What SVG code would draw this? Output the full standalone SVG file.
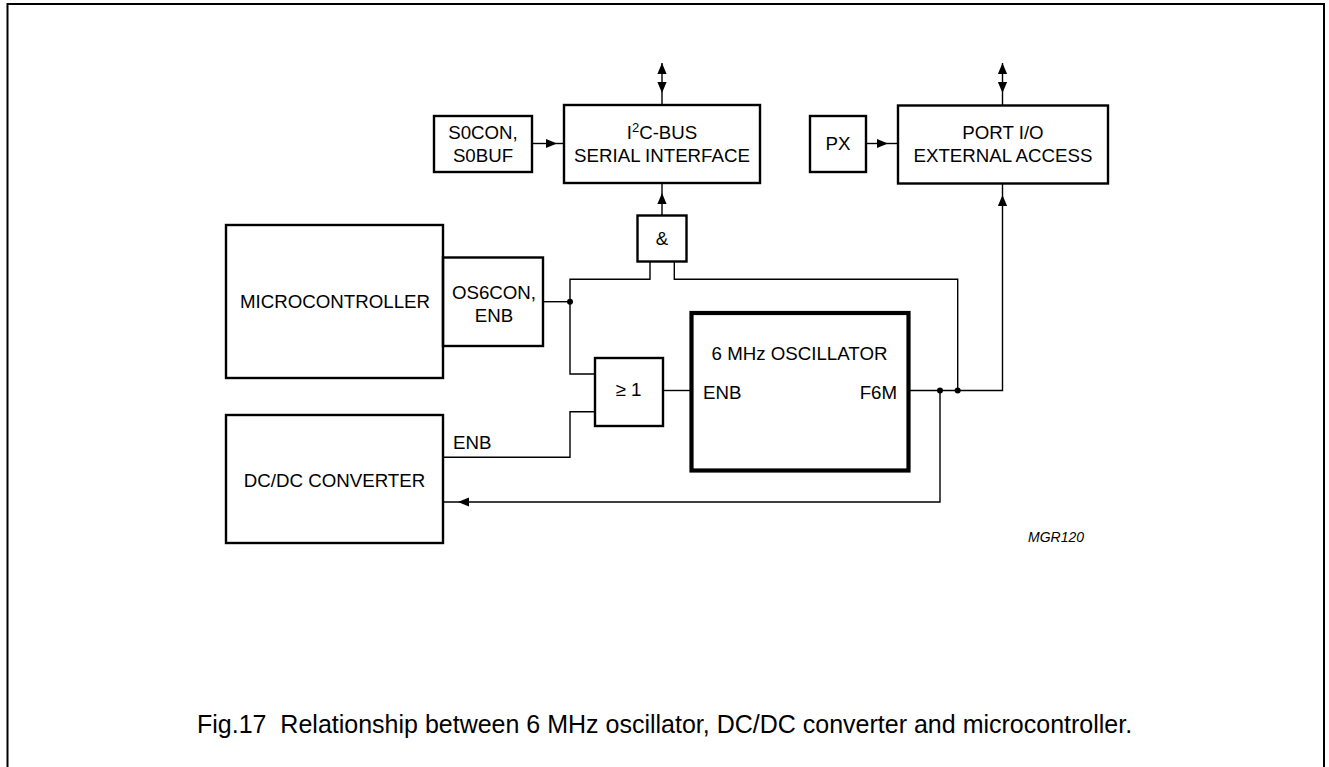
<svg xmlns="http://www.w3.org/2000/svg" xmlns:xlink="http://www.w3.org/1999/xlink" width="1329" height="767" viewBox="0 0 1329 767">
<style>
  .box{fill:none;stroke:#000;stroke-width:2.4}
  .thick{fill:none;stroke:#000;stroke-width:4.2}
  .wire{fill:none;stroke:#000;stroke-width:1.4}
  .lbl{font-family:"Liberation Sans",Arial,Helvetica,sans-serif;font-size:18.7px;fill:#000}
  .mid{text-anchor:middle}
  .cap{font-family:"Liberation Sans",Arial,Helvetica,sans-serif;font-size:25px;fill:#000;white-space:pre}
  .code{font-family:"Liberation Sans",Arial,Helvetica,sans-serif;font-size:14px;font-style:italic;fill:#000}
  .dot{fill:#000}
</style>
<defs>
  <path id="ah" d="M0,0 L-11,-4.6 L-11,4.6 Z" fill="#000"/>
</defs>
<rect width="1329" height="767" fill="#fff"/>
<path d="M7.5,767 V4 H1324 V767" fill="none" stroke="#000" stroke-width="2"/>

<g id="connectors">
  <path class="wire" d="M532,143.5 H564"/>
  <use xlink:href="#ah" transform="translate(557,143.5)"/>
  <path class="wire" d="M866,143.5 H898"/>
  <use xlink:href="#ah" transform="translate(888,143.5)"/>
  <path class="wire" d="M662,63 V105"/>
  <use xlink:href="#ah" transform="translate(662,63) rotate(-90)"/>
  <use xlink:href="#ah" transform="translate(662,93) rotate(90)"/>
  <path class="wire" d="M1002.5,63 V105.5"/>
  <use xlink:href="#ah" transform="translate(1002.5,63) rotate(-90)"/>
  <use xlink:href="#ah" transform="translate(1002.5,93) rotate(90)"/>
  <path class="wire" d="M662,215.5 V183"/>
  <use xlink:href="#ah" transform="translate(662,193) rotate(-90)"/>
  <path class="wire" d="M543,301.7 H570"/>
  <path class="wire" d="M650,261.5 V279.3 H570 V374 H595"/>
  <path class="wire" d="M674.3,261.5 V279.3 H957.7 V390.5"/>
  <path class="wire" d="M443,457.3 H570 V411.7 H595"/>
  <path class="wire" d="M663,390.5 H691.5"/>
  <path class="wire" d="M908.7,390.5 H1002.5 V183.5"/>
  <use xlink:href="#ah" transform="translate(1002.5,195) rotate(-90)"/>
  <path class="wire" d="M940,390.5 V502 H443"/>
  <use xlink:href="#ah" transform="translate(458,502) rotate(180)"/>
  <circle class="dot" cx="570" cy="301.7" r="3"/>
  <circle class="dot" cx="940" cy="390.5" r="3"/>
  <circle class="dot" cx="957.7" cy="390.5" r="3"/>
</g>

<g id="s0con">
  <rect class="box" x="434" y="116" width="98" height="56"/>
  <text class="lbl mid" x="483" y="139">S0CON,</text>
  <text class="lbl mid" x="483" y="161.7">S0BUF</text>
</g>
<g id="i2c">
  <rect class="box" x="564" y="105" width="196" height="78"/>
  <text class="lbl mid" x="662" y="139">I<tspan font-size="13" dy="-7">2</tspan><tspan dy="7">C-BUS</tspan></text>
  <text class="lbl mid" x="662" y="161.7">SERIAL INTERFACE</text>
</g>
<g id="px">
  <rect class="box" x="810" y="116" width="56" height="56"/>
  <text class="lbl mid" x="838" y="150">PX</text>
</g>
<g id="port">
  <rect class="box" x="898" y="105.5" width="210" height="78"/>
  <text class="lbl mid" x="1003" y="139">PORT I/O</text>
  <text class="lbl mid" x="1003" y="161.7">EXTERNAL ACCESS</text>
</g>
<g id="and">
  <rect class="box" x="637.5" y="215.5" width="49" height="46"/>
  <text class="lbl mid" x="662" y="245">&amp;</text>
</g>
<g id="micro">
  <rect class="box" x="226" y="225" width="217" height="153"/>
  <text class="lbl mid" x="335" y="308.3">MICROCONTROLLER</text>
</g>
<g id="os6con">
  <rect class="box" x="443" y="257.5" width="100" height="88.5"/>
  <text class="lbl mid" x="494" y="299">OS6CON,</text>
  <text class="lbl mid" x="494" y="321.7">ENB</text>
</g>
<g id="or">
  <rect class="box" x="595" y="358" width="68" height="68"/>
  <text class="lbl mid" x="628.5" y="396">≥ 1</text>
</g>
<g id="osc">
  <rect class="thick" x="691.5" y="313" width="217" height="157.5"/>
  <text class="lbl mid" x="799.5" y="360">6 MHz OSCILLATOR</text>
  <text class="lbl" x="703" y="399">ENB</text>
  <text class="lbl" x="897" y="399" text-anchor="end">F6M</text>
</g>
<g id="dcdc">
  <rect class="box" x="226" y="415" width="217" height="128"/>
  <text class="lbl mid" x="334.5" y="486.7">DC/DC CONVERTER</text>
  <text class="lbl" x="453" y="449.3">ENB</text>
</g>
<text class="code" x="1028" y="542.3">MGR120</text>
<text class="cap" x="197" y="733" xml:space="preserve">Fig.17  Relationship between 6 MHz oscillator, DC/DC converter and microcontroller.</text>
</svg>
